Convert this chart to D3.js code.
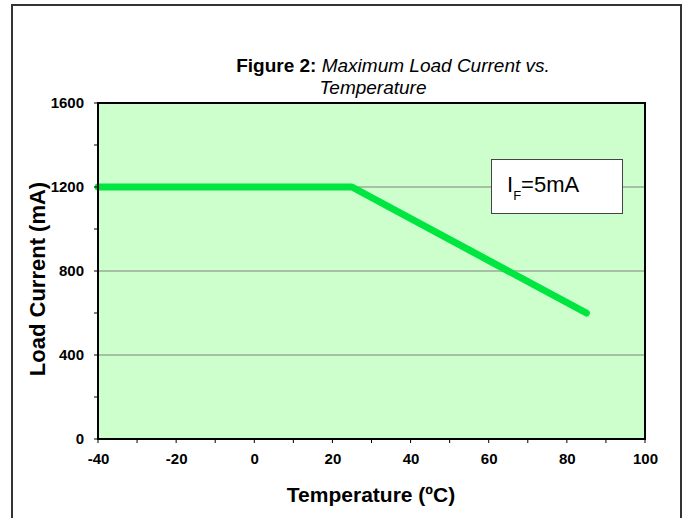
<!DOCTYPE html>
<html><head><meta charset="utf-8">
<script src="https://cdn.jsdelivr.net/npm/d3@7"></script>
<style>html,body{margin:0;padding:0;background:#fff;}svg{display:block;}</style>
</head><body>
<svg id="c" width="688" height="518"></svg>
<script>
const temps = [-40, 25, 85];
const currents = [1200, 1200, 600];
const xTicks = [-40, -20, 0, 20, 40, 60, 80, 100];
const yTicks = [0, 400, 800, 1200, 1600];
const xMinor = [-40, -30, -20, -10, 0, 10, 20, 30, 40, 50, 60, 70, 80, 90, 100];
const yMinor = [0, 200, 400, 600, 800, 1000, 1200, 1400, 1600];
const titleBold = "Figure 2:";
const titleItalic1 = " Maximum Load Current vs.";
const titleItalic2 = "Temperature";
const xLabel = "Temperature (ºC)";
const yLabel = "Load Current (mA)";
const noteMain = "I", noteSub = "F", noteRest = "=5mA";

const svg = d3.select("#c");
const F = "Arial, 'Liberation Sans', sans-serif";
const L = 98, R = 645, T = 103, B = 439;
const x = d3.scaleLinear().domain([-40, 100]).range([L, R]);
const y = d3.scaleLinear().domain([0, 1600]).range([B, T]);

// outer frame
svg.append("rect").attr("x", 12).attr("y", 5).attr("width", 669).attr("height", 530)
  .attr("fill", "#fff").attr("stroke", "#333").attr("stroke-width", 2);

// plot bg
svg.append("rect").attr("x", L).attr("y", T).attr("width", R - L).attr("height", B - T)
  .attr("fill", "#CCFFCC");

// gridlines
svg.append("g").selectAll("line").data(yTicks.filter(d => d > 0 && d < 1600)).join("line")
  .attr("x1", L).attr("x2", R).attr("y1", d => y(d)).attr("y2", d => y(d))
  .attr("stroke", "#808080").attr("stroke-width", 1);

// annotation box
const box = svg.append("g");
box.append("rect").attr("x", 491.5).attr("y", 159.5).attr("width", 131).attr("height", 54)
  .attr("fill", "#fff").attr("stroke", "#444").attr("stroke-width", 1);
const t = box.append("text").attr("x", 507).attr("y", 192).attr("font-family", F).attr("font-size", 22).attr("fill", "#000");
t.append("tspan").text(noteMain);
t.append("tspan").attr("dy", 8).attr("font-size", 13).text(noteSub);
t.append("tspan").attr("dy", -8).text(noteRest);

// data line
svg.append("path").datum(temps.map((d, i) => [d, currents[i]]))
  .attr("d", d3.line().x(d => x(d[0])).y(d => y(d[1])))
  .attr("fill", "none").attr("stroke", "#00E640").attr("stroke-width", 7)
  .attr("stroke-linecap", "round").attr("stroke-linejoin", "round");

// plot border
svg.append("rect").attr("x", L).attr("y", T).attr("width", R - L).attr("height", B - T)
  .attr("fill", "none").attr("stroke", "#000").attr("stroke-width", 2);

// axes
const xAxis = svg.append("g").attr("transform", `translate(0,${B})`)
  .call(d3.axisBottom(x).tickValues(xTicks).tickSize(0).tickPadding(14).tickFormat(d => String(d)));
xAxis.select(".domain").remove();
xAxis.selectAll("text").attr("font-family", F).attr("font-size", 15).attr("font-weight", "bold").attr("fill", "#000");
svg.append("g").selectAll("line").data(xMinor).join("line")
  .attr("x1", d => x(d)).attr("x2", d => x(d)).attr("y1", B).attr("y2", B + 4)
  .attr("stroke", "#000").attr("stroke-width", 1);

const yAxis = svg.append("g").attr("transform", `translate(${L},0)`)
  .call(d3.axisLeft(y).tickValues(yTicks).tickSize(0).tickPadding(14).tickFormat(d => String(d)));
yAxis.select(".domain").remove();
yAxis.selectAll("text").attr("font-family", F).attr("font-size", 15).attr("font-weight", "bold").attr("fill", "#000");
svg.append("g").selectAll("line").data(yMinor).join("line")
  .attr("x1", L - 4).attr("x2", L).attr("y1", d => y(d)).attr("y2", d => y(d))
  .attr("stroke", "#000").attr("stroke-width", 1);

// titles
const tt = svg.append("text").attr("x", 393).attr("y", 72).attr("text-anchor", "middle")
  .attr("font-family", F).attr("font-size", 19).attr("fill", "#000");
tt.append("tspan").attr("font-weight", "bold").text(titleBold);
tt.append("tspan").attr("font-style", "italic").text(titleItalic1);
svg.append("text").attr("x", 373).attr("y", 94).attr("text-anchor", "middle")
  .attr("font-family", F).attr("font-size", 19).attr("font-style", "italic").attr("fill", "#000").text(titleItalic2);

svg.append("text").attr("x", 371).attr("y", 502).attr("text-anchor", "middle")
  .attr("font-family", F).attr("font-size", 21).attr("font-weight", "bold").attr("fill", "#000").text(xLabel);
svg.append("text").attr("transform", "translate(45,279) rotate(-90)").attr("text-anchor", "middle")
  .attr("font-family", F).attr("font-size", 22).attr("font-weight", "bold").attr("fill", "#000").text(yLabel);
</script>
</body></html>
